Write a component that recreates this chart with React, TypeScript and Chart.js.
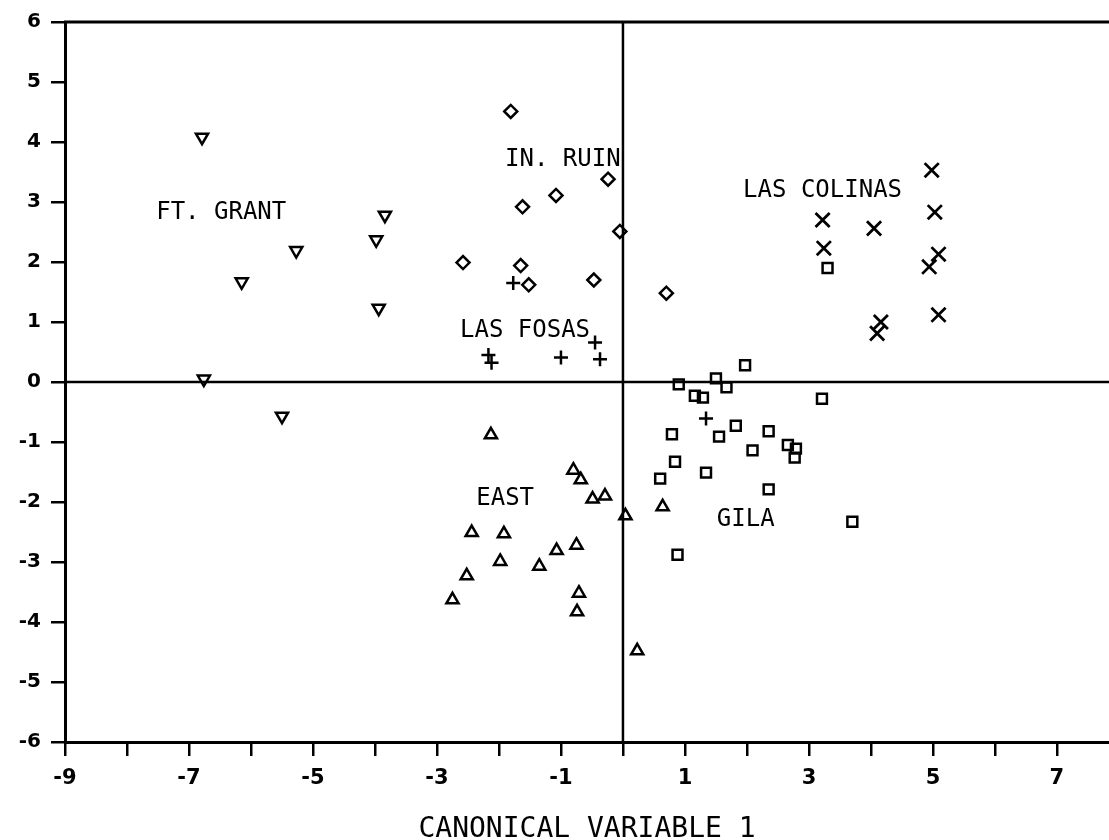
import React, { useEffect, useRef } from "react";
import { Chart, registerables } from "chart.js";

Chart.register(...registerables);

// ---- Data (canonical variable 1 = x, canonical variable 2 = y) ----
const ftGrantX = [-6.79, -6.15, -5.27, -3.84, -3.98, -3.94, -6.76, -5.5];
const ftGrantY = [4.08, 1.67, 2.19, 2.78, 2.37, 1.23, 0.05, -0.57];

const inRuinX = [-1.81, -0.24, -1.08, -1.62, -0.05, -2.58, -1.65, -1.52, -0.47, 0.7];
const inRuinY = [4.51, 3.38, 3.11, 2.92, 2.51, 1.99, 1.94, 1.62, 1.7, 1.48];

const lasFosasX = [-1.77, -2.17, -2.12, -1.0, -0.45, -0.37, 1.34];
const lasFosasY = [1.65, 0.45, 0.32, 0.41, 0.66, 0.38, -0.61];

const gilaX = [0.9, 1.16, 1.29, 1.5, 1.67, 1.97, 3.21, 0.79, 1.55, 1.82, 2.35, 2.09, 2.66, 2.79, 2.77, 0.84, 0.6, 1.34, 2.35, 3.7, 0.88, 3.3];
const gilaY = [-0.04, -0.23, -0.26, 0.06, -0.09, 0.28, -0.28, -0.87, -0.91, -0.73, -0.82, -1.14, -1.05, -1.11, -1.26, -1.33, -1.61, -1.51, -1.79, -2.33, -2.88, 1.9];

const lasColinasX = [4.98, 5.03, 3.22, 4.05, 3.24, 5.09, 4.94, 4.16, 4.1, 5.09];
const lasColinasY = [3.53, 2.83, 2.7, 2.56, 2.23, 2.13, 1.92, 1.0, 0.81, 1.12];

const eastX = [-2.13, -0.8, -0.68, -0.49, -0.29, 0.04, 0.64, -2.44, -1.92, -0.75, -1.07, -1.98, -1.35, -2.52, -2.75, -0.71, -0.74, 0.23];
const eastY = [-0.88, -1.47, -1.63, -1.95, -1.9, -2.23, -2.08, -2.51, -2.53, -2.72, -2.81, -2.99, -3.07, -3.23, -3.63, -3.52, -3.83, -4.48];

// group labels written inside the plot (text, x, y in data units)
const groupNames = ["FT. GRANT", "IN. RUIN", "LAS COLINAS", "LAS FOSAS", "EAST", "GILA"];
const groupNameX = [-6.48, -0.97, 3.22, -1.58, -1.9, 1.98];
const groupNameY = [2.87, 3.75, 3.23, 0.9, -1.9, -2.25];

const xAxisTitle = "CANONICAL VARIABLE 1";
const xLabeledTicks = [-9, -7, -5, -3, -1, 1, 3, 5, 7];
const xMin = -9;
const xMax = 7.84;
const xLastTick = 7;
const yMin = -6;
const yMax = 6;

const toPoints = (xs: number[], ys: number[]) => xs.map((x, i) => ({ x, y: ys[i] }));

const frameAndLabels = {
  id: "frameAndLabels",
  beforeDatasetsDraw(chart: any) {
    const { ctx, chartArea: a, scales } = chart;
    const x = scales.x;
    const y = scales.y;
    ctx.save();
    ctx.strokeStyle = "#000";
    ctx.lineCap = "butt";
    // top frame line
    ctx.lineWidth = 3;
    ctx.beginPath();
    ctx.moveTo(a.left - 1, a.top);
    ctx.lineTo(a.right, a.top);
    ctx.stroke();
    // zero lines
    ctx.lineWidth = 2.5;
    const x0 = x.getPixelForValue(0);
    const y0 = y.getPixelForValue(0);
    ctx.beginPath();
    ctx.moveTo(a.left, y0);
    ctx.lineTo(a.right, y0);
    ctx.moveTo(x0, a.top);
    ctx.lineTo(x0, a.bottom);
    ctx.stroke();
    // group names
    ctx.fillStyle = "#000";
    ctx.font = '24px "DejaVu Sans Mono"';
    ctx.textAlign = "center";
    ctx.textBaseline = "alphabetic";
    groupNames.forEach((t, i) => {
      const px = x.getPixelForValue(groupNameX[i]);
      const py = y.getPixelForValue(groupNameY[i]);
      ctx.fillText(t, px, py + 8.7);
    });
    ctx.restore();
  },
};

export default function App() {
  const ref = useRef<HTMLCanvasElement | null>(null);

  useEffect(() => {
    document.body.style.margin = "0";
    const canvas = ref.current;
    if (!canvas) return;
    const common = {
      borderColor: "#000",
      backgroundColor: "rgba(0,0,0,0)",
      pointBorderColor: "#000",
      pointBackgroundColor: "rgba(0,0,0,0)",
      pointBorderWidth: 2.5,
      showLine: false,
    };
    const chart = new Chart(canvas, {
      type: "scatter",
      data: {
        datasets: [
          { ...common, label: "FT. GRANT", data: toPoints(ftGrantX, ftGrantY), pointStyle: "triangle", rotation: 180, pointRadius: 7 },
          { ...common, label: "IN. RUIN", data: toPoints(inRuinX, inRuinY), pointStyle: "rectRot", pointRadius: 6.5 },
          { ...common, label: "LAS FOSAS", data: toPoints(lasFosasX, lasFosasY), pointStyle: "cross", pointRadius: 7 },
          { ...common, label: "GILA", data: toPoints(gilaX, gilaY), pointStyle: "rect", pointRadius: 7 },
          { ...common, label: "LAS COLINAS", data: toPoints(lasColinasX, lasColinasY), pointStyle: "crossRot", pointRadius: 10, pointBorderWidth: 2.8 },
          { ...common, label: "EAST", data: toPoints(eastX, eastY), pointStyle: "triangle", pointRadius: 7 },
        ],
      } as any,
      options: {
        animation: false,
        responsive: false,
        events: [],
        layout: { autoPadding: false, padding: { top: 22, right: 0, left: 0, bottom: 0 } },
        plugins: { legend: { display: false }, tooltip: { enabled: false } },
        scales: {
          x: {
            type: "linear",
            position: "bottom",
            min: xMin,
            max: xMax,
            afterBuildTicks: (s: any) => {
              s.ticks = s.ticks.filter((t: any) => t.value >= xMin - 1e-6 && t.value <= xLastTick + 1e-6);
            },
            afterFit: (s: any) => {
              s.height = 98;
              s.paddingRight = 0;
              s.paddingLeft = 0;
            },
            ticks: {
              stepSize: 1,
              autoSkip: false,
              includeBounds: false,
              maxRotation: 0,
              padding: 10,
              color: "#000",
              font: { family: '"DejaVu Sans"', size: 21, weight: "bold" },
              callback: (v: any) => (xLabeledTicks.includes(Number(v)) ? String(v) : ""),
            },
            grid: { display: true, drawOnChartArea: false, drawTicks: true, tickLength: 14, color: "#000", lineWidth: 2.5 },
            border: { display: true, color: "#000", width: 3 },
            title: {
              display: true,
              text: xAxisTitle,
              color: "#000",
              font: { family: '"DejaVu Sans Mono"', size: 28, lineHeight: 1 },
              padding: { top: 0, bottom: -4 },
            },
          },
          y: {
            type: "linear",
            position: "left",
            min: yMin,
            max: yMax,
            afterFit: (s: any) => {
              s.width = 65;
            },
            ticks: {
              stepSize: 1,
              autoSkip: false,
              padding: 10,
              color: "#000",
              font: { family: '"DejaVu Sans"', size: 20, weight: "bold" },
              callback: (v: any) => String(v),
            },
            grid: { display: true, drawOnChartArea: false, drawTicks: true, tickLength: 14, color: "#000", lineWidth: 2.5 },
            border: { display: true, color: "#000", width: 3 },
          },
        },
      } as any,
      plugins: [frameAndLabels],
    });
    return () => chart.destroy();
  }, []);

  return (
    <div style={{ position: "absolute", left: 0, top: 0, width: 1109, height: 840, background: "#fff" }}>
      <canvas ref={ref} width={1109} height={840} style={{ display: "block" }} />
    </div>
  );
}
